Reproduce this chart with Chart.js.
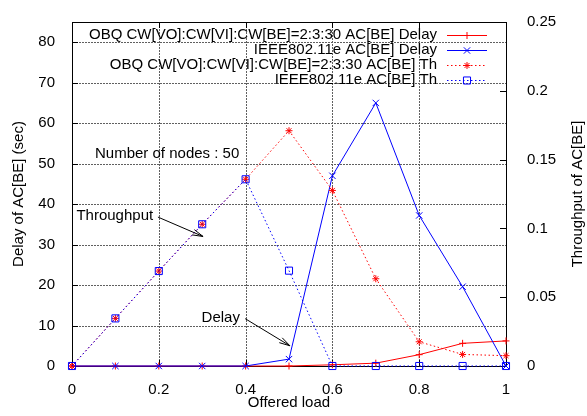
<!DOCTYPE html>
<html>
<head>
<meta charset="utf-8">
<title>AC[BE] delay and throughput</title>
<script src="https://cdn.jsdelivr.net/npm/chart.js@4.4.1/dist/chart.umd.min.js"></script>
<style>
  html, body { margin: 0; padding: 0; background: #fff; }
  canvas { display: block; }
</style>
</head>
<body>
<canvas id="chart" width="587" height="416"></canvas>
<script>
// offered load on the x axis
const load = [0, 0.1, 0.2, 0.3, 0.4, 0.5, 0.6, 0.7, 0.8, 0.9, 1];

// delay of AC[BE] in seconds (left axis)
const obqDelay  = [0, 0, 0, 0, 0, 0, 0.3, 0.7, 2.8, 5.6, 6.2];
const ieeeDelay = [0, 0, 0, 0, 0, 1.7, 47, 65, 37.2, 19.6, 0];

// throughput of AC[BE] (right axis)
const obqTh  = [0, 0.0346, 0.069, 0.103, 0.1357, 0.171, 0.1276, 0.0634, 0.0176, 0.0084, 0.0075];
const ieeeTh = [0, 0.0346, 0.069, 0.103, 0.1357, 0.0693, 0, 0, 0, 0, 0];

const seriesNames = [
  'OBQ CW[VO]:CW[VI]:CW[BE]=2:3:30 AC[BE] Delay',
  'IEEE802.11e AC[BE] Delay',
  'OBQ CW[VO]:CW[VI]:CW[BE]=2:3:30 AC[BE] Th',
  'IEEE802.11e AC[BE] Th'
];

const loadTicks  = [0, 0.2, 0.4, 0.6, 0.8, 1];
const delayTicks = [0, 10, 20, 30, 40, 50, 60, 70, 80];
const thTicks    = [0, 0.05, 0.1, 0.15, 0.2, 0.25];

// text notes, placed in load / delay units
const notes = [
  { text: 'Number of nodes : 50', x: 0.053, y: 52.3, align: 'left' },
  { text: 'Throughput', x: 0.187, y: 37.0, align: 'right', from: [0.198, 36.8], to: [0.302, 32.0] },
  { text: 'Delay', x: 0.387, y: 11.9, align: 'right', from: [0.399, 11.7], to: [0.502, 5.0] }
];

const FONT = '"Liberation Sans", Arial, Helvetica, sans-serif';
Chart.defaults.font.family = FONT;
Chart.defaults.font.size = 15;
Chart.defaults.color = '#000';

const pts = ys => load.map((x, i) => ({ x: x, y: ys[i] }));

// dotted grid, box round the plot and gnuplot style inward ticks
const frame = {
  id: 'frame',
  beforeDatasetsDraw(chart) {
    const { ctx, chartArea: a, scales } = chart;
    ctx.save();

    ctx.fillStyle = '#606060';
    scales.x.ticks.forEach(t => {
      const p = Math.round(scales.x.getPixelForValue(t.value));
      if (p <= a.left + 1 || p >= a.right - 1) return;
      for (let y = a.top + 1; y < a.bottom; y += 3) ctx.fillRect(p, y, 1, 2);
    });
    scales.y.ticks.forEach(t => {
      const p = Math.round(scales.y.getPixelForValue(t.value));
      if (p >= a.bottom - 1 || p <= a.top + 1) return;
      for (let x = a.left + 1; x < a.right; x += 3) ctx.fillRect(x, p, 2, 1);
    });

    ctx.strokeStyle = '#000';
    ctx.lineWidth = 1;
    ctx.strokeRect(a.left + 0.5, a.top + 0.5, a.right - a.left, a.bottom - a.top);
    ctx.beginPath();
    scales.y.ticks.forEach(t => {
      const p = Math.round(scales.y.getPixelForValue(t.value)) + 0.5;
      ctx.moveTo(a.left, p); ctx.lineTo(a.left + 6, p);
    });
    scales.y1.ticks.forEach(t => {
      const p = Math.round(scales.y1.getPixelForValue(t.value)) + 0.5;
      ctx.moveTo(a.right, p); ctx.lineTo(a.right - 6, p);
    });
    scales.x.ticks.forEach(t => {
      const p = Math.round(scales.x.getPixelForValue(t.value)) + 0.5;
      ctx.moveTo(p, a.bottom); ctx.lineTo(p, a.bottom - 6);
      ctx.moveTo(p, a.top); ctx.lineTo(p, a.top + 6);
    });
    ctx.stroke();
    ctx.restore();
  }
};

// key in the top right corner, notes with arrows, right axis title
const overlay = {
  id: 'overlay',
  afterDatasetsDraw(chart) {
    const { ctx, chartArea: a, scales } = chart;
    ctx.save();
    ctx.font = '15px ' + FONT;
    ctx.fillStyle = '#000';
    ctx.textBaseline = 'middle';

    chart.data.datasets.forEach((ds, i) => {
      const y = a.top + 13 + i * 15;
      ctx.textAlign = 'right';
      ctx.fillStyle = '#000';
      ctx.fillText(ds.label, a.right - 69, y);
      ctx.strokeStyle = ds.borderColor;
      ctx.lineWidth = 1;
      ctx.setLineDash(ds.borderDash || []);
      ctx.beginPath();
      ctx.moveTo(a.right - 59, y + 0.5);
      ctx.lineTo(a.right - 19, y + 0.5);
      ctx.stroke();
      ctx.setLineDash([]);
      ctx.fillStyle = 'rgba(0,0,0,0)';
      Chart.helpers.drawPoint(ctx, {
        pointStyle: ds.pointStyle, radius: ds.pointRadius, borderWidth: 1, rotation: 0
      }, a.right - 39, y + 0.5);
    });

    ctx.fillStyle = '#000';
    ctx.strokeStyle = '#000';
    ctx.lineWidth = 1;
    notes.forEach(n => {
      ctx.textAlign = n.align;
      ctx.fillText(n.text, scales.x.getPixelForValue(n.x), scales.y.getPixelForValue(n.y));
      if (!n.from) return;
      const x0 = scales.x.getPixelForValue(n.from[0]), y0 = scales.y.getPixelForValue(n.from[1]);
      const x1 = scales.x.getPixelForValue(n.to[0]), y1 = scales.y.getPixelForValue(n.to[1]);
      const ang = Math.atan2(y1 - y0, x1 - x0);
      ctx.beginPath();
      ctx.moveTo(x0, y0); ctx.lineTo(x1, y1);
      [-0.26, 0.26].forEach(d => {
        ctx.moveTo(x1, y1);
        ctx.lineTo(x1 - 11 * Math.cos(ang + d), y1 - 11 * Math.sin(ang + d));
      });
      ctx.stroke();
    });

    // right axis title reads bottom to top, like the left one
    ctx.translate(578, (a.top + a.bottom) / 2);
    ctx.rotate(-Math.PI / 2);
    ctx.textAlign = 'center';
    ctx.fillText('Throughput of AC[BE]', 0, 0);
    ctx.restore();
  }
};

const fixedTicks = list => scale => { scale.ticks = list.map(v => ({ value: v })); };

new Chart(document.getElementById('chart'), {
  type: 'line',
  data: {
    datasets: [
      { label: seriesNames[0], data: pts(obqDelay), yAxisID: 'y', borderColor: '#ff0000',
        pointStyle: 'cross', pointRadius: 3.5, order: 3 },
      { label: seriesNames[1], data: pts(ieeeDelay), yAxisID: 'y', borderColor: '#0000ff',
        pointStyle: 'crossRot', pointRadius: 4.5, order: 2 },
      { label: seriesNames[2], data: pts(obqTh), yAxisID: 'y1', borderColor: '#ff0000',
        borderDash: [1.5, 2.5], pointStyle: 'star', pointRadius: 3.5, order: 1 },
      { label: seriesNames[3], data: pts(ieeeTh), yAxisID: 'y1', borderColor: '#0000ff',
        borderDash: [1.5, 2.5], pointStyle: 'rect', pointRadius: 5, order: 0 }
    ].map(d => Object.assign({
      borderWidth: 1, pointBorderColor: d.borderColor, pointBackgroundColor: 'rgba(0,0,0,0)',
      pointBorderWidth: 1, tension: 0, fill: false, clip: false
    }, d))
  },
  options: {
    responsive: false,
    animation: false,
    devicePixelRatio: 1,
    layout: { padding: { top: 10, left: 0, right: 0, bottom: 0 } },
    plugins: { legend: { display: false }, tooltip: { enabled: false } },
    scales: {
      x: {
        type: 'linear', min: 0, max: 1,
        afterBuildTicks: fixedTicks(loadTicks),
        afterFit: s => { s.height = 50; },
        border: { display: false },
        grid: { display: false },
        ticks: { padding: 7, maxRotation: 0, callback: v => String(v) },
        title: { display: true, text: 'Offered load', padding: { top: 0, bottom: 4 } }
      },
      y: {
        position: 'left', min: 0, max: 85,
        afterBuildTicks: fixedTicks(delayTicks),
        afterFit: s => { s.width = 72; },
        border: { display: false },
        grid: { display: false },
        ticks: { padding: 9, callback: v => String(v) },
        title: { display: true, text: 'Delay of AC[BE] (sec)', padding: { top: 10, bottom: 0 } }
      },
      y1: {
        position: 'right', min: 0, max: 0.25,
        afterBuildTicks: fixedTicks(thTicks),
        afterFit: s => { s.width = 81; },
        border: { display: false },
        grid: { display: false },
        ticks: { padding: 13, callback: v => String(v) }
      }
    }
  },
  plugins: [frame, overlay]
});
</script>
</body>
</html>
